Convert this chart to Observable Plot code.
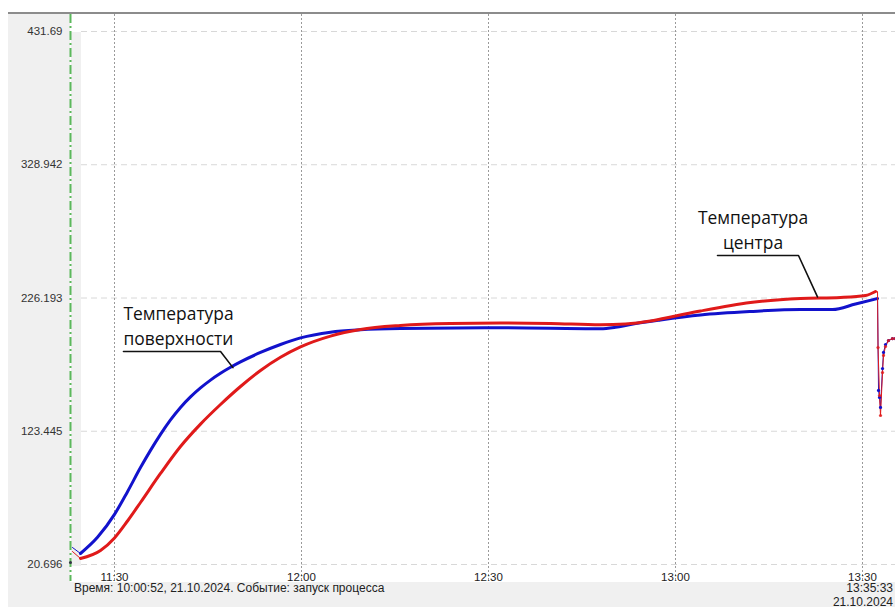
<!DOCTYPE html>
<html>
<head>
<meta charset="utf-8">
<script src="https://cdn.jsdelivr.net/npm/d3@7"></script>
<script src="https://cdn.jsdelivr.net/npm/@observablehq/plot@0.6"></script>
<style>
  html, body { margin: 0; padding: 0; background: #fff; }
  #wrap { position: relative; width: 895px; height: 607px; overflow: hidden; background: #fff; font-family: "Liberation Sans", Arial, sans-serif; }
  .bg { position: absolute; }
  #chart { position: absolute; left: 0; top: 0; }
  #chart svg { background: transparent; }
  .foot { position: absolute; font-size: 12px; color: #222; white-space: nowrap; line-height: 13.5px; }
</style>
</head>
<body>
<div id="wrap">
  <div class="bg" style="left:8px;top:12px;width:887px;height:2px;background:#8c8c8c"></div>
  <div class="bg" style="left:8px;top:14px;width:62px;height:568px;background:#f0f0f0"></div>
  <div class="bg" style="left:71px;top:32px;width:10px;height:534px;background:#f0f0f0"></div>
  <div class="bg" style="left:8px;top:582px;width:887px;height:25px;background:#f0f0f0"></div>
  <div id="chart"></div>
  <div class="foot" id="f1" style="left:74px;top:582px"></div>
  <div class="foot" id="f2" style="right:2px;top:582px;text-align:right"></div>
</div>
<script>
// ---- data (time in minutes since midnight, temperature) ----
const yTickValues = [20.696, 123.445, 226.193, 328.942, 431.69];
const yTickLabels = ["20.696", "123.445", "226.193", "328.942", "431.69"];
const xTickMinutes = [690, 720, 750, 780, 810];
const xTickLabels = ["11:30", "12:00", "12:30", "13:00", "13:30"];

const cursorMinute = 682.94;
const cursorMarker = [{t: 682.94, v: 22.2}];

// Температура поверхности (blue)
const surfaceTime = [684.545, 687.273, 690.000, 692.086, 694.171, 695.775, 697.380, 698.984, 700.588, 702.193, 703.797, 705.401, 707.005, 708.610, 710.214, 713.422, 716.631, 719.840, 724.652, 729.465, 735.882, 751.925, 767.968, 770.37, 772.78, 777.59, 784.01, 792.03, 800.05, 805.19, 808.88, 812.41];
const surfaceTemp = [29.18, 41.63, 59.33, 76.87, 95.42, 108.68, 121.02, 132.20, 141.84, 149.93, 156.87, 162.89, 168.13, 172.76, 176.92, 184.17, 190.34, 195.43, 199.82, 201.67, 202.60, 203.21, 202.44, 203.60, 205.76, 209.23, 213.09, 215.78, 217.32, 217.32, 221.57, 225.81];

// Температура центра (red)
const centerTime = [684.545, 687.754, 690.000, 692.086, 694.171, 697.380, 700.588, 703.797, 707.005, 710.214, 713.422, 716.631, 719.840, 724.652, 729.465, 735.882, 743.904, 751.925, 759.947, 767.968, 771.979, 775.989, 780.00, 784.01, 792.03, 800.05, 806.47, 810.48, 812.09];
const centerTemp = [25.32, 31.49, 41.21, 54.24, 68.50, 90.87, 111.69, 128.96, 144.07, 157.95, 170.29, 180.47, 188.49, 196.82, 201.91, 204.99, 206.53, 206.92, 206.53, 205.53, 206.15, 208.46, 212.32, 216.17, 222.72, 225.81, 226.58, 228.12, 231.20];

const surfaceStartTime = [683.26, 684.545];
const surfaceStartTemp = [33.8, 29.18];
const centerStartTime = [683.26, 684.545];
const centerStartTemp = [30.7, 25.32];

const surfaceTailTime = [812.41, 812.57, 812.73, 812.89, 813.21, 813.37, 813.69, 814.17, 814.81, 815.29];
const surfaceTailTemp = [225.81, 154.9, 149.5, 141.8, 171.8, 184.2, 190.3, 193.4, 194.9, 194.9];
const centerTailTime = [812.09, 812.41, 812.49, 812.73, 812.89, 813.21, 813.37, 813.69, 814.17, 814.81, 815.29];
const centerTailTemp = [231.2, 231.2, 188.0, 151.0, 135.6, 168.7, 181.9, 188.8, 193.4, 194.9, 194.9];

const labelSurface = {t: 691.44, v: 222.4, text: "Температура\nповерхности"};
const leaderSurfaceTime = [691.44, 707.01, 709.00];
const leaderSurfaceTemp = [184.9, 184.9, 172.5];
const labelCenter = {t: 792.43, v: 297.0, text: "Температура\nцентра"};
const leaderCenterTime = [786.74, 799.73, 802.78];
const leaderCenterTemp = [258.97, 258.97, 227.0];

const footerLeft = "Время: 10:00:52, 21.10.2024. Событие: запуск процесса";
const footerRight = ["13:35:33", "21.10.2024"];

// ---- build tables ----
const zip = (ts, vs) => ts.map((t, i) => ({t, v: vs[i]}));
const surface = zip(surfaceTime, surfaceTemp);
const center = zip(centerTime, centerTemp);
const surfaceStart = zip(surfaceStartTime, surfaceStartTemp);
const centerStart = zip(centerStartTime, centerStartTemp);
const surfaceTail = zip(surfaceTailTime, surfaceTailTemp);
const centerTail = zip(centerTailTime, centerTailTemp);
const leaderSurface = zip(leaderSurfaceTime, leaderSurfaceTemp);
const leaderCenter = zip(leaderCenterTime, leaderCenterTemp);
const yTicks = yTickValues.map((v, i) => ({v, label: yTickLabels[i]}));
const xTicks = xTickMinutes.map((t, i) => ({t, label: xTickLabels[i]}));

const BLUE = "#1212cc";
const RED = "#e01a1a";

const chart = Plot.plot({
  width: 895,
  height: 607,
  marginLeft: 81,
  marginRight: 0,
  marginTop: 14,
  marginBottom: 26,
  x: {domain: [690, 810], range: [114, 862], axis: null},
  y: {domain: [20.696, 431.69], range: [564, 31], axis: null},
  style: {background: "transparent", overflow: "visible"},
  marks: [
    Plot.ruleY(yTicks, {y: "v", stroke: "#d8d8d8", strokeWidth: 1, strokeDasharray: "6,4"}),
    Plot.ruleX(xTicks, {x: "t", stroke: "#9a9a9a", strokeWidth: 1, strokeDasharray: "2,2"}),
    Plot.ruleX([cursorMinute], {x: d => d, stroke: "#5cb85c", strokeWidth: 2, strokeDasharray: "9,3,2,3"}),
    Plot.text(yTicks, {y: "v", text: "label", frameAnchor: "left", dx: -19, textAnchor: "end",
      fontSize: 11.5, fontFamily: "Liberation Sans, Arial, sans-serif", fill: "#333"}),
    Plot.text(xTicks, {x: "t", text: "label", frameAnchor: "bottom", lineAnchor: "bottom", dy: -1,
      fontSize: 11.5, fontFamily: "Liberation Sans, Arial, sans-serif", fill: "#222"}),
    Plot.line(surfaceStart, {x: "t", y: "v", stroke: BLUE, strokeWidth: 1}),
    Plot.line(centerStart, {x: "t", y: "v", stroke: RED, strokeWidth: 1}),
    Plot.line(surface, {x: "t", y: "v", stroke: BLUE, strokeWidth: 3, curve: "monotone-x"}),
    Plot.line(center, {x: "t", y: "v", stroke: RED, strokeWidth: 3, curve: "monotone-x"}),
    Plot.line(surfaceTail, {x: "t", y: "v", stroke: BLUE, strokeWidth: 1}),
    Plot.line(centerTail, {x: "t", y: "v", stroke: RED, strokeWidth: 1}),
    Plot.dot(surfaceTail.slice(1), {x: "t", y: "v", r: 1.6, fill: BLUE, stroke: "none"}),
    Plot.dot(centerTail.slice(2), {x: "t", y: "v", r: 1.6, fill: RED, stroke: "none", fillOpacity: 0.85}),
    Plot.dot(cursorMarker, {x: "t", y: "v", r: 1.5, fill: "#334", stroke: "none"}),
    Plot.line(leaderSurface, {x: "t", y: "v", stroke: "#111", strokeWidth: 1.6}),
    Plot.line(leaderCenter, {x: "t", y: "v", stroke: "#111", strokeWidth: 1.6}),
    Plot.text([labelSurface], {x: "t", y: "v", text: "text", textAnchor: "start", lineAnchor: "top",
      lineHeight: 1.4, fontSize: 17.4, fontFamily: "Open Sans, sans-serif", fill: "#111"}),
    Plot.text([labelCenter], {x: "t", y: "v", text: "text", textAnchor: "middle", lineAnchor: "top",
      lineHeight: 1.45, fontSize: 17.4, fontFamily: "Open Sans, sans-serif", fill: "#111"})
  ]
});
document.getElementById("chart").appendChild(chart);
document.getElementById("f1").textContent = footerLeft;
document.getElementById("f2").innerHTML = footerRight.join("<br>");
</script>
</body>
</html>
